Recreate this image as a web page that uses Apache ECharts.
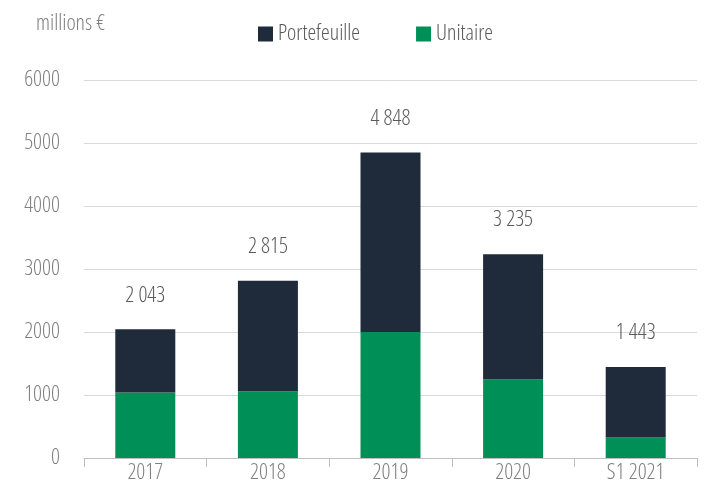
<!DOCTYPE html>
<html>
<head>
<meta charset="utf-8">
<script src="https://cdn.jsdelivr.net/npm/echarts@6/dist/echarts.min.js"></script>
<style>
  html, body { margin: 0; padding: 0; background: #fff; }
  #chart { width: 705px; height: 496px; }
</style>
</head>
<body>
<div id="chart"></div>
<script>
// valeurs (millions €)
const categories = ['2017', '2018', '2019', '2020', 'S1 2021'];
const unitaire = [1040, 1060, 2000, 1245, 325];
const portefeuille = [1003, 1755, 2848, 1990, 1118];
const totals = ['2 043', '2 815', '4 848', '3 235', '1 443'];
const yTicks = [0, 1000, 2000, 3000, 4000, 5000, 6000];

// police étroite : Open Sans en largeur condensée
const FONT = '"Open Sans"';
const WEIGHT = '300 extra-condensed';

let chart = echarts.init(document.getElementById('chart'));
let option = {
    animation: false,
    title: {
        text: 'millions €',
        left: 31,
        top: 8,
        textStyle: { fontFamily: FONT, fontSize: 22, fontWeight: WEIGHT, color: '#7f7f7f' }
    },
    legend: {
        data: ['Portefeuille', 'Unitaire'],
        left: 253,
        top: 18,
        itemWidth: 15,
        itemHeight: 15,
        itemGap: 56,
        itemTextGap: 4,
        icon: 'rect',
        textStyle: { fontFamily: FONT, fontSize: 22, fontWeight: WEIGHT, color: '#595959' }
    },
    grid: {
        left: 84,
        right: 8,
        top: 80,
        bottom: 38
    },
    xAxis: {
        type: 'category',
        data: categories,
        axisLine: { lineStyle: { color: '#bfbfbf', width: 1 } },
        axisTick: { show: true, length: 9, lineStyle: { color: '#bfbfbf' } },
        axisLabel: { fontFamily: FONT, fontSize: 22, fontWeight: WEIGHT, color: '#7f7f7f', margin: 4 }
    },
    yAxis: {
        type: 'value',
        min: yTicks[0],
        max: yTicks[yTicks.length - 1],
        interval: 1000,
        axisLine: { show: false },
        axisTick: { show: false },
        splitLine: { lineStyle: { color: '#d9d9d9', width: 1 } },
        axisLabel: {
            fontFamily: FONT, fontSize: 22, fontWeight: WEIGHT, color: '#7f7f7f', margin: 24,
            formatter: function (v) { return String(v); }
        }
    },
    series: [
        {
            name: 'Unitaire',
            type: 'bar',
            stack: 'total',
            barWidth: 60,
            data: unitaire,
            itemStyle: { color: '#009057' }
        },
        {
            name: 'Portefeuille',
            type: 'bar',
            stack: 'total',
            barWidth: 60,
            data: portefeuille,
            itemStyle: { color: '#1f2b3a' },
            label: {
                show: true,
                position: 'top',
                distance: 23,
                fontFamily: FONT,
                fontSize: 22,
                fontWeight: WEIGHT,
                color: '#595959',
                formatter: function (p) { return totals[p.dataIndex]; }
            }
        }
    ]
};
chart.setOption(option);
</script>
</body>
</html>
